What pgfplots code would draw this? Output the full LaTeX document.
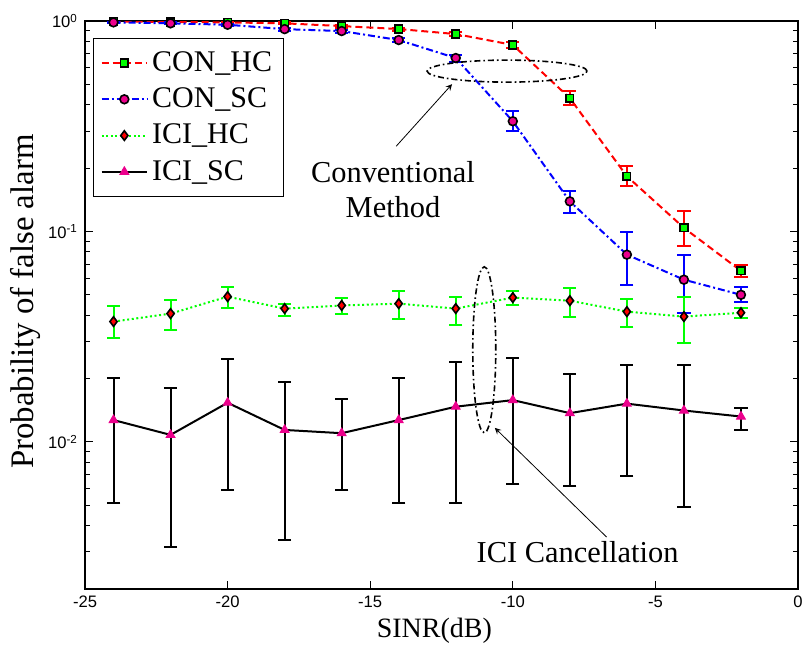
\documentclass[border=0pt]{standalone}
\usepackage{fontspec}
\setmainfont{Liberation Serif}
\setsansfont{Liberation Sans}
\usepackage{pgfplots}
\usepackage{pgfplotstable}
\pgfplotsset{compat=1.18}

\pgfplotstableread{
x y ep em
-24 0.995 0.004 0.01
-22 0.99 0.006 0.01
-20 0.985 0.01 0.01
-18 0.975 0.01 0.01
-16 0.946 0.012 0.015
-14 0.916 0.015 0.015
-12 0.867 0.02 0.02
-10 0.77 0.025 0.025
-8 0.43 0.034 0.032
-6 0.183 0.021 0.019
-4 0.104 0.021 0.019
-2 0.065 0.004 0.004
}\conhc

\pgfplotstableread{
x y ep em
-24 0.985 0.008 0.01
-22 0.975 0.01 0.01
-20 0.96 0.01 0.012
-18 0.915 0.015 0.015
-16 0.896 0.015 0.015
-14 0.812 0.02 0.02
-12 0.667 0.025 0.028
-10 0.334 0.038 0.035
-8 0.139 0.016 0.017
-6 0.0776 0.022 0.022
-4 0.059 0.0186 0.0179
-2 0.050 0.0047 0.0036
}\consc

\pgfplotstableread{
x y ep em
-24 0.0373 0.0067 0.0060
-22 0.0407 0.0067 0.0066
-20 0.0490 0.0057 0.0055
-18 0.0430 0.0024 0.0032
-16 0.0445 0.0040 0.0038
-14 0.0454 0.0070 0.0069
-12 0.0430 0.0060 0.0070
-10 0.0485 0.0039 0.0040
-8 0.0469 0.0071 0.0075
-6 0.0416 0.0064 0.0063
-4 0.0394 0.0096 0.0098
-2 0.0411 0.0024 0.0021
}\icihc

\pgfplotstableread{
x y ep em
-24 0.0127 0.0075 0.00757
-22 0.0108 0.0073 0.00764
-20 0.01535 0.00945 0.00945
-18 0.0114 0.0079 0.00799
-16 0.0110 0.0050 0.0051
-14 0.0127 0.0075 0.0076
-12 0.0147 0.0093 0.0096
-10 0.0158 0.0093 0.0095
-8 0.0137 0.0074 0.0075
-6 0.0152 0.0081 0.0083
-4 0.0141 0.0092 0.0092
-2 0.0132 0.0013 0.0018
}\icisc

\begin{document}
\begin{tikzpicture}
\begin{axis}[
  scale only axis, width=356.5pt, height=284pt,
  xmin=-25, xmax=0, ymode=log, ymin=0.002, ymax=1,
  xtick={-25,-20,-15,-10,-5,0},
  xticklabels={-25,-20,-15,-10,-5,0},
  ytick={0.01,0.1,1},
  yticklabels={10\textsuperscript{-2},10\textsuperscript{-1},10\textsuperscript{0}},
  minor ytick={0.003,0.004,0.005,0.006,0.007,0.008,0.009,0.02,0.03,0.04,0.05,0.06,0.07,0.08,0.09,0.2,0.3,0.4,0.5,0.6,0.7,0.8,0.9},
  minor xtick={},
  tick label style={font=\fontsize{8.3}{10}\selectfont\sffamily},
  tick align=inside,
  major tick length=4pt, minor tick length=2.5pt,
  every tick/.style={black, line width=0.5pt},
  axis line style={line width=0.9pt},
  xlabel={SINR(dB)},
  ylabel={Probability of false alarm},
  xlabel style={font=\fontsize{14}{16}\selectfont, at={(axis description cs:0.49,-0.074)}, anchor=center},
  ylabel style={font=\fontsize{16.4}{18}\selectfont, at={(axis description cs:-0.083,0.506)}, anchor=center},
  legend style={at={(axis description cs:0,1)}, anchor=north west, xshift=4pt, yshift=-8.5pt,
    draw=black, line width=0.6pt, font=\fontsize{15}{16}\selectfont, row sep=2.7pt,
    inner xsep=3.5pt, inner ysep=4.5pt},
  legend cell align=left,
  legend image code/.code={\draw[mark repeat=2,mark phase=2] plot coordinates {(0cm,0cm) (0.4cm,0cm) (0.8cm,0cm)};},
  error bars/y dir=both, error bars/y explicit,
]
\addplot[red, line width=1pt, dash pattern=on 3.5pt off 2pt,
  mark=square*, mark size=1.9pt, mark options={solid, draw=black, fill=green, line width=0.8pt},
  error bars/error bar style={solid, line width=1pt, red},
  error bars/error mark options={rotate=90, mark size=3.3pt, line width=1pt, red, solid}]
  table[x=x, y=y, y error plus=ep, y error minus=em]{\conhc};
\addlegendentry{CON\_HC}
\addplot[blue, line width=1pt, dash pattern=on 3.5pt off 1.5pt on 1pt off 1.5pt,
  mark=*, mark size=2.2pt, mark options={solid, draw=black, fill=magenta, line width=0.8pt},
  error bars/error bar style={solid, line width=1pt, blue},
  error bars/error mark options={rotate=90, mark size=3.3pt, line width=1pt, blue, solid}]
  table[x=x, y=y, y error plus=ep, y error minus=em]{\consc};
\addlegendentry{CON\_SC}
\addplot[green, line width=1pt, dash pattern=on 1pt off 1.3pt,
  mark=diamond*, mark size=2.4pt, mark options={solid, draw=black, fill=red, line width=0.8pt},
  error bars/error bar style={solid, line width=1pt, green},
  error bars/error mark options={rotate=90, mark size=3.3pt, line width=1pt, green, solid}]
  table[x=x, y=y, y error plus=ep, y error minus=em]{\icihc};
\addlegendentry{ICI\_HC}
\addplot[black, line width=1pt, solid,
  mark=triangle*, mark size=2.5pt, mark options={solid, draw=magenta, fill=magenta, line width=0.5pt},
  error bars/error bar style={solid, line width=1pt, black},
  error bars/error mark options={rotate=90, mark size=3.3pt, line width=1pt, black, solid}]
  table[x=x, y=y, y error plus=ep, y error minus=em]{\icisc};
\addlegendentry{ICI\_SC}

\draw[black, line width=0.8pt, dash pattern=on 3pt off 1.5pt on 0.8pt off 1.5pt]
  (axis cs:-10.2,0.578) ellipse [x radius=40pt, y radius=5.5pt];
\draw[black, line width=0.8pt, dash pattern=on 3pt off 1.5pt on 0.8pt off 1.5pt]
  (axis cs:-11.0,0.0274) ellipse [x radius=5.75pt, y radius=41.5pt];
\draw[-stealth, black, line width=0.4pt] (axis cs:-14.09,0.254) -- (axis cs:-12.13,0.501);
\draw[-stealth, black, line width=0.4pt] (axis cs:-6.71,0.00353) -- (axis cs:-10.63,0.01166);
\node[font=\fontsize{15.2}{17.5}\selectfont, align=center] at (axis cs:-14.2,0.158) {Conventional\\Method};
\node[font=\fontsize{15.2}{17.5}\selectfont] at (axis cs:-7.73,0.00299) {ICI Cancellation};
\end{axis}
\pgfresetboundingbox
\path ([xshift=-42.5pt, yshift=-31.5pt]current axis.south west) rectangle ([xshift=3pt, yshift=10.5pt]current axis.north east);
\end{tikzpicture}
\end{document}
